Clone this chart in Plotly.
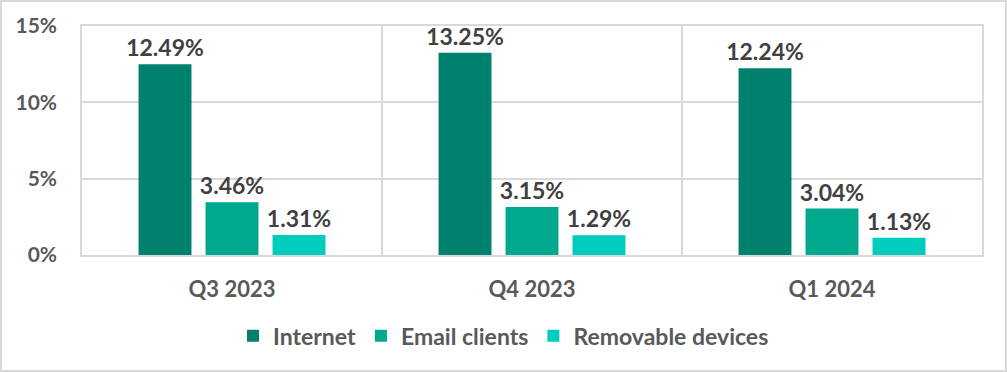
import plotly.graph_objects as go

categories = ["Q3 2023", "Q4 2023", "Q1 2024"]
internet = [12.49, 13.25, 12.24]
email = [3.46, 3.15, 3.04]
removable = [1.31, 1.29, 1.13]
series_names = ["Internet", "Email clients", "Removable devices"]
colors = ["#00816D", "#00A88E", "#00CCBE"]

W, H = 1007, 372
ML, MR, MT, MB = 82, 25, 26, 117
FONT = "Lato"

fig = go.Figure()
for name, vals, col in zip(series_names, [internet, email, removable], colors):
    fig.add_trace(go.Bar(
        x=categories, y=[v / 100 for v in vals], name=name,
        marker=dict(color=col, line=dict(width=0)),
        text=[f"{v:.2f}%" for v in vals], textposition="outside",
        constraintext="none",
        textfont=dict(family=FONT, size=23, color="#404040", weight="bold"),
        cliponaxis=False,
    ))

pw = W - ML - MR
ph = H - MT - MB
fig.add_shape(type="rect", xref="paper", yref="paper",
              x0=(-ML + 1) / pw, x1=(W - ML - 1) / pw,
              y0=(-MB + 1) / ph, y1=(H - MB - 1) / ph,
              line=dict(color="#D9D9D9", width=2), layer="below")

fig.update_layout(
    width=W, height=H,
    margin=dict(l=ML, r=MR, t=MT, b=MB, autoexpand=False),
    paper_bgcolor="white", plot_bgcolor="white",
    barmode="group", bargap=0.33, bargroupgap=0.21,
    font=dict(family=FONT, size=20, color="#595959"),
    showlegend=True,
    legend=dict(orientation="h", xref="container", yref="container",
                x=0.5, xanchor="center", y=0.097, yanchor="middle",
                font=dict(family=FONT, size=23, color="#595959", weight="bold"),
                itemwidth=30, tracegroupgap=0),
    xaxis=dict(showgrid=True, tickson="boundaries", gridcolor="#D9D9D9", gridwidth=1.5,
               showline=True, linecolor="#D9D9D9", linewidth=1.5, mirror=True,
               ticks="", ticklabelstandoff=14, automargin=False,
               tickfont=dict(family=FONT, size=22, color="#595959", weight="bold")),
    yaxis=dict(range=[0, 0.15], tickvals=[0, 0.05, 0.10, 0.15], tickformat=".0%",
               showgrid=True, gridcolor="#D9D9D9", gridwidth=1.5,
               showline=True, linecolor="#D9D9D9", linewidth=1.5, mirror=True,
               zeroline=False, ticks="", ticklabelstandoff=19, automargin=False,
               tickfont=dict(family=FONT, size=21, color="#595959", weight="bold")),
)

fig.write_html("out.html", config={"displayModeBar": False},
               post_script="document.body.style.margin='0';document.body.style.overflow='hidden';")
